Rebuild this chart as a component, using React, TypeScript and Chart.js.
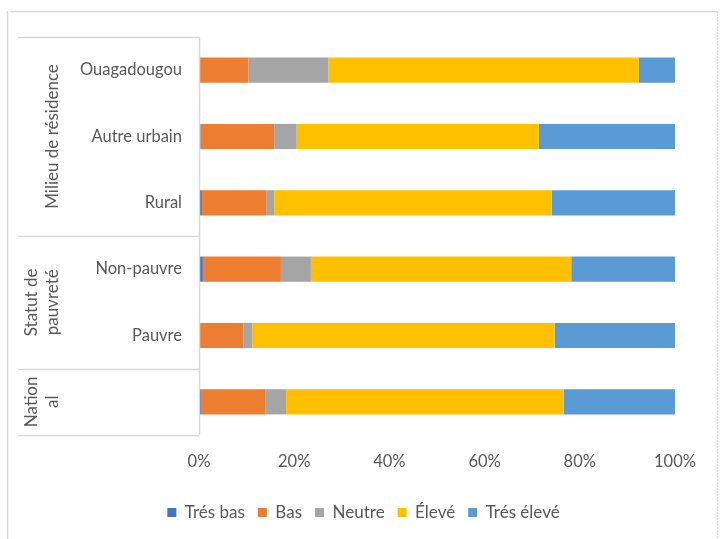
import React, { useEffect, useRef } from "react";
import { Chart, registerables } from "chart.js";

Chart.register(...registerables);

const categories = ["Ouagadougou", "Autre urbain", "Rural", "Non-pauvre", "Pauvre", ""];
const seriesNames = ["Trés bas", "Bas", "Neutre", "Élevé", "Trés élevé"];
const tresBas = [0, 0.3, 0.6, 0.8, 0, 0.4];
const bas = [10.4, 15.5, 13.6, 16.4, 9.3, 13.5];
const neutre = [16.8, 4.7, 1.6, 6.3, 1.9, 4.4];
const eleve = [65.2, 50.9, 58.3, 54.7, 63.5, 58.3];
const tresEleve = [7.6, 28.6, 25.9, 21.8, 25.3, 23.4];
const colors = ["#4472C4", "#ED7D31", "#A5A5A5", "#FFC000", "#5B9BD5"];
const xTicks = [0, 20, 40, 60, 80, 100];
const groups = [
  { lines: ["Milieu de résidence"], from: 0, to: 2 },
  { lines: ["Statut de", "pauvreté"], from: 3, to: 4 },
  { lines: ["Nation", "al"], from: 5, to: 5 },
];

const FONT = "Lato, 'Open Sans', sans-serif";
const TEXT = "#595959";
const LINE = "#d9d9d9";

const tablePlugin = {
  id: "tablePlugin",
  afterDraw(chart: any) {
    const { ctx, chartArea } = chart;
    const y = chart.scales.y;
    const left = 18;
    const right = chartArea.left;
    const bounds: number[] = [chartArea.top];
    groups.forEach((g) => {
      const b =
        g.to + 1 < categories.length
          ? (y.getPixelForValue(g.to) + y.getPixelForValue(g.to + 1)) / 2
          : chartArea.bottom;
      bounds.push(b);
    });
    ctx.save();
    ctx.strokeStyle = LINE;
    ctx.lineWidth = 1.5;
    bounds.forEach((b) => {
      ctx.beginPath();
      ctx.moveTo(left, Math.round(b) + 0.5);
      ctx.lineTo(right, Math.round(b) + 0.5);
      ctx.stroke();
    });
    ctx.beginPath();
    ctx.moveTo(right + 0.5, chartArea.top);
    ctx.lineTo(right + 0.5, chartArea.bottom);
    ctx.stroke();
    // outer frame
    ctx.beginPath();
    ctx.moveTo(10, 11.5);
    ctx.lineTo(717, 11.5);
    ctx.stroke();
    ctx.beginPath();
    ctx.moveTo(7.5, 11);
    ctx.lineTo(7.5, 539);
    ctx.stroke();
    ctx.setLineDash([2, 1]);
    ctx.beginPath();
    ctx.moveTo(717.5, 11);
    ctx.lineTo(717.5, 539);
    ctx.stroke();
    ctx.setLineDash([]);
    // group labels
    ctx.fillStyle = TEXT;
    ctx.font = `17px ${FONT}`;
    ctx.textAlign = "center";
    ctx.textBaseline = "middle";
    groups.forEach((g, i) => {
      const cy = (bounds[i] + bounds[i + 1]) / 2;
      const n = g.lines.length;
      g.lines.forEach((t, j) => {
        const cx = n === 1 ? 53 : 32 + j * 21;
        ctx.save();
        ctx.translate(cx, cy);
        ctx.rotate(-Math.PI / 2);
        ctx.fillText(t, 0, 0);
        ctx.restore();
      });
    });
    ctx.restore();
  },
};

export default function App() {
  const ref = useRef<HTMLCanvasElement>(null);
  useEffect(() => {
    if (!ref.current) return;
    const series = [tresBas, bas, neutre, eleve, tresEleve];
    const chart = new Chart(ref.current, {
      type: "bar",
      data: {
        labels: categories,
        datasets: series.map((d, i) => ({
          label: seriesNames[i],
          data: d,
          backgroundColor: colors[i],
          borderWidth: 0,
          barPercentage: 0.38,
          categoryPercentage: 1,
        })),
      },
      options: {
        indexAxis: "y",
        animation: false,
        responsive: false,
        devicePixelRatio: 1,
        layout: { padding: { top: 37, left: 0, right: 0, bottom: 8 } },
        scales: {
          x: {
            stacked: true,
            min: 0,
            max: 100,
            afterBuildTicks: (s: any) => {
              s.ticks = xTicks.map((v) => ({ value: v }));
            },
            afterFit: (s: any) => {
              s.height = 56;
            },
            grid: { display: false, drawTicks: false },
            border: { display: false },
            ticks: {
              padding: 17,
              color: TEXT,
              font: { family: FONT, size: 16.5 },
              callback: (v: any) => v + "%",
            },
          },
          y: {
            stacked: true,
            afterFit: (s: any) => {
              s.width = 199;
            },
            grid: { display: false, drawTicks: false },
            border: { display: false },
            ticks: {
              padding: 17,
              color: TEXT,
              font: { family: FONT, size: 16.5 },
            },
          },
          y2: {
            type: "category",
            position: "right",
            labels: [""],
            afterFit: (s: any) => {
              s.width = 52;
            },
            grid: { display: false, drawTicks: false },
            border: { display: false },
            ticks: { display: false },
          },
        },
        plugins: {
          legend: {
            position: "bottom",
            labels: {
              boxWidth: 9,
              boxHeight: 9,
              padding: 13,
              color: TEXT,
              font: { family: FONT, size: 17 },
            },
          },
          tooltip: { enabled: false },
        },
      },
      plugins: [tablePlugin],
    } as any);
    return () => chart.destroy();
  }, []);
  return (
    <div style={{ position: "fixed", left: 0, top: 0, width: 727, height: 539, background: "#fff" }}>
      <canvas ref={ref} width={727} height={539} style={{ display: "block" }} />
    </div>
  );
}
